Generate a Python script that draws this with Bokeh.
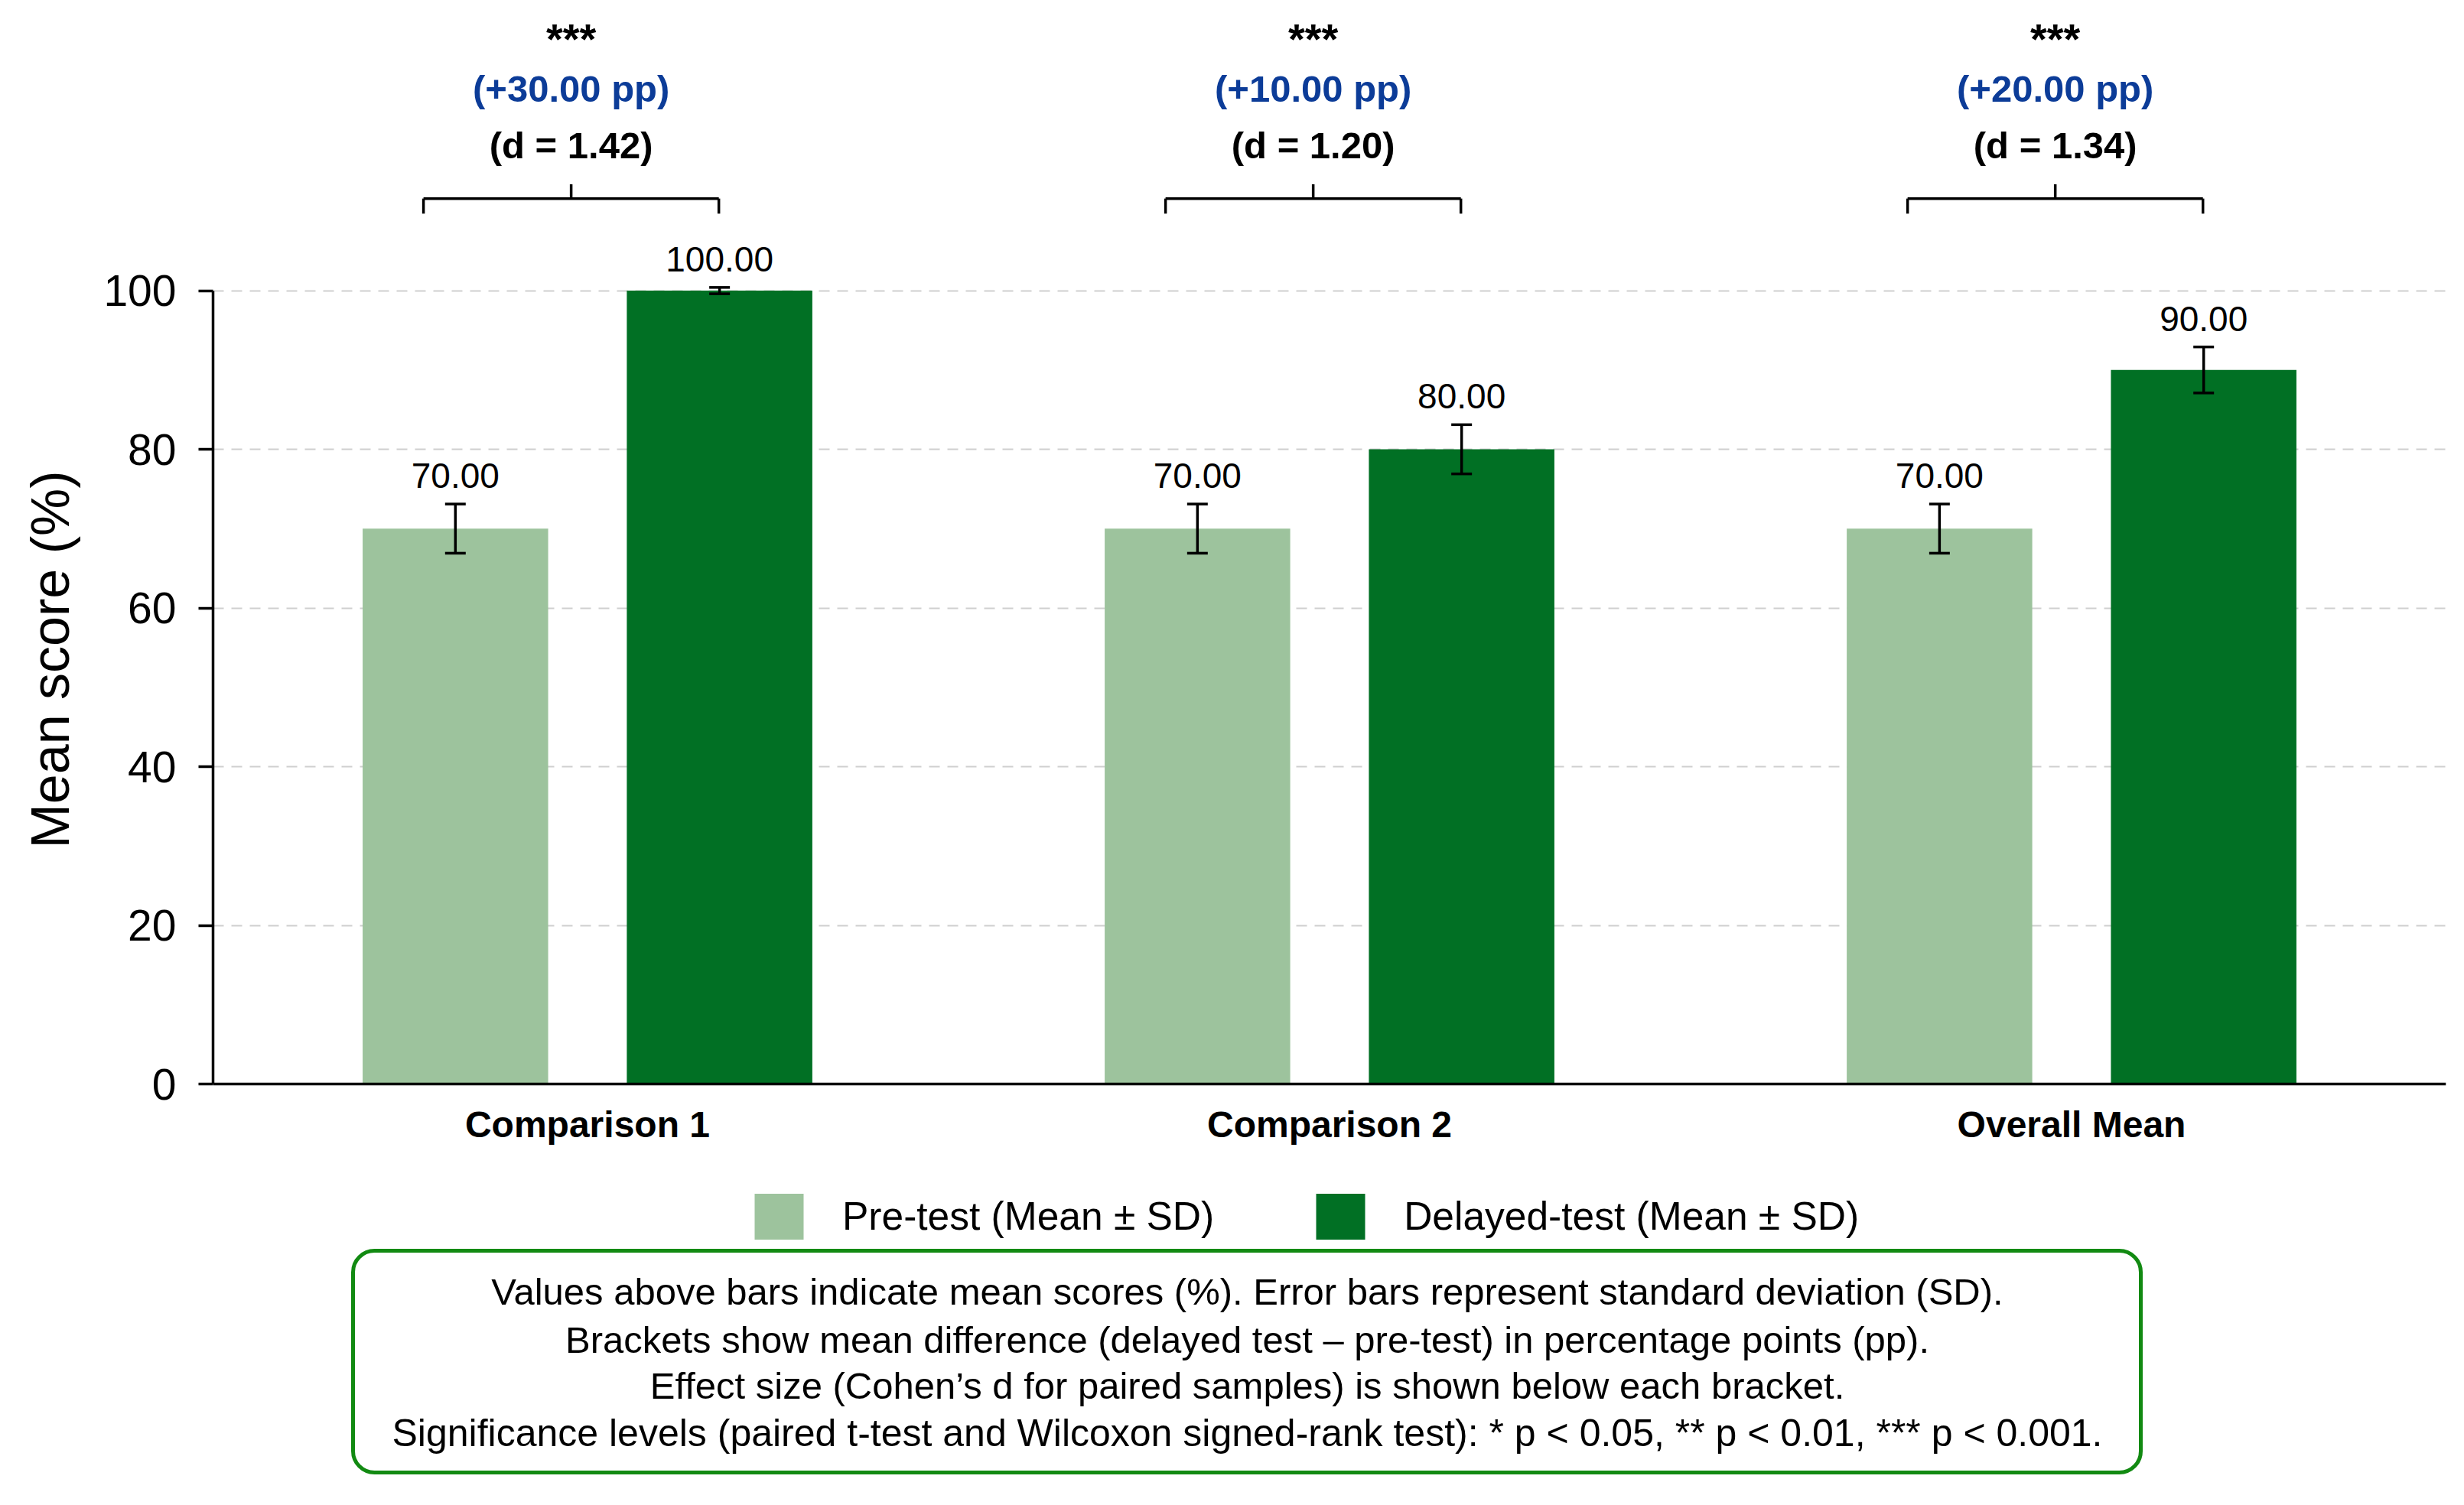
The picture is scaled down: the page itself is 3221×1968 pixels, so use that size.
from bokeh.plotting import figure
from bokeh.models import (FactorRange, Range1d, ColumnDataSource, Whisker, TeeHead, Title, Label,
                          Legend, LegendItem, BoxAnnotation, FixedTicker)
from bokeh.transform import dodge
from bokeh.core.properties import value
from bokeh.embed import file_html
from bokeh.resources import INLINE

# ---------------- data ----------------
categories = ["Comparison 1", "Comparison 2", "Overall Mean"]
pre_mean = [70.0, 70.0, 70.0]
pre_sd = [3.1, 3.1, 3.1]
delayed_mean = [100.0, 80.0, 90.0]
delayed_sd = [0.4, 3.1, 2.9]
pre_labels = ["70.00", "70.00", "70.00"]
delayed_labels = ["100.00", "80.00", "90.00"]
significance = ["***", "***", "***"]
diff_labels = ["(+30.00 pp)", "(+10.00 pp)", "(+20.00 pp)"]
effect_labels = ["(d = 1.42)", "(d = 1.20)", "(d = 1.34)"]
y_ticks = [0, 20, 40, 60, 80, 100]
legend_labels = ["Pre-test (Mean \u00b1 SD)", "Delayed-test (Mean \u00b1 SD)"]
note_lines = [
    "Values above bars indicate mean scores (%). Error bars represent standard deviation (SD).",
    "Brackets show mean difference (delayed test \u2013 pre-test) in percentage points (pp).",
    "Effect size (Cohen\u2019s d for paired samples) is shown below each bracket.",
    "Significance levels (paired t-test and Wilcoxon signed-rank test): * p < 0.05, ** p < 0.01, *** p < 0.001.",
]

# ---------------- styles / layout ----------------
FONT = "Liberation Sans"
PRE_COLOR = "#9DC39D"
DEL_COLOR = "#017024"
BLUE = "#0C3C98"
BOX_GREEN = "#128A12"
OFF = 0.178
BAR_W = 0.25
FRAME_W, FRAME_H = 2919, 1960
PX_PER_UNIT = 10.375
Y_TOP = 1417 / PX_PER_UNIT
Y_BOTTOM = -(FRAME_H - 1417) / PX_PER_UNIT
X_PAD = 0.0046
FRAME_LEFT = 278  # frame left edge in the reference picture

def sx(px):  # picture x -> synthetic x of the categorical range
    return -X_PAD + (px - FRAME_LEFT) / (FRAME_W / (3 + 2 * X_PAD))

def sy(py):  # picture y -> data y
    return (1417 - py) / PX_PER_UNIT

src = ColumnDataSource(dict(
    cat=categories,
    pre=pre_mean, pre_lo=[m - s for m, s in zip(pre_mean, pre_sd)], pre_hi=[m + s for m, s in zip(pre_mean, pre_sd)],
    dl=delayed_mean, dl_lo=[m - s for m, s in zip(delayed_mean, delayed_sd)], dl_hi=[m + s for m, s in zip(delayed_mean, delayed_sd)],
    pre_lab=pre_labels, dl_lab=delayed_labels,
    sig=significance, diff=diff_labels, eff=effect_labels,
))

p = figure(frame_width=FRAME_W, frame_height=FRAME_H,
           x_range=FactorRange(factors=categories, range_padding=X_PAD, range_padding_units="absolute"),
           y_range=Range1d(Y_BOTTOM, Y_TOP),
           output_backend="svg", toolbar_location=None,
           min_border_left=FRAME_LEFT - 8, min_border_right=16, min_border_top=0, min_border_bottom=0)
p.outline_line_color = None
p.background_fill_color = "white"
p.border_fill_color = "white"

xr = p.x_range
r_pre = p.vbar(x=dodge("cat", -OFF, range=xr), top="pre", bottom=0, width=BAR_W, source=src,
               fill_color=PRE_COLOR, line_color=None)
r_del = p.vbar(x=dodge("cat", OFF, range=xr), top="dl", bottom=0, width=BAR_W, source=src,
               fill_color=DEL_COLOR, line_color=None)

for off, lo, hi in [(-OFF, "pre_lo", "pre_hi"), (OFF, "dl_lo", "dl_hi")]:
    w = Whisker(base=dodge("cat", off, range=xr), lower=lo, upper=hi, source=src,
                line_color="black", line_width=3.5, level="annotation",
                upper_head=TeeHead(size=27, line_width=3.5, line_color="black"),
                lower_head=TeeHead(size=27, line_width=3.5, line_color="black"))
    p.add_layout(w)

# value labels
for off, ycol, tcol in [(-OFF, "pre_hi", "pre_lab"), (OFF, "dl_hi", "dl_lab")]:
    p.text(x=dodge("cat", off, range=xr), y=ycol, text=tcol, source=src, y_offset=-37,
           text_align="center", text_baseline="middle", text_font=value(FONT), text_font_size="46px",
           text_color="black")

# brackets (positions in data units of the y axis)
BY, BLO, BHI = 111.6, 109.7, 113.4
BL, BR, BC = -0.221, 0.177, -0.022
p.segment(x0=dodge("cat", BL, range=xr), y0=BY, x1=dodge("cat", BR, range=xr), y1=BY,
          source=src, line_color="black", line_width=3.5)
p.segment(x0=dodge("cat", BL, range=xr), y0=BY, x1=dodge("cat", BL, range=xr), y1=BLO,
          source=src, line_color="black", line_width=3.5)
p.segment(x0=dodge("cat", BR, range=xr), y0=BY, x1=dodge("cat", BR, range=xr), y1=BLO,
          source=src, line_color="black", line_width=3.5)
p.segment(x0=dodge("cat", BC, range=xr), y0=BY, x1=dodge("cat", BC, range=xr), y1=BHI,
          source=src, line_color="black", line_width=3.5)

for col, yy, size, color in [("sig", 131.8, "56px", "black"), ("diff", 125.4, "49px", BLUE),
                             ("eff", 118.3, "49px", "black")]:
    p.text(x=dodge("cat", BC, range=xr), y=yy, text=col, source=src, text_align="center",
           text_baseline="middle", text_font=value(FONT), text_font_size=size, text_font_style="bold",
           text_color=color)

# axes
p.yaxis.ticker = FixedTicker(ticks=y_ticks)
p.yaxis.bounds = (0, 100)
p.yaxis.axis_line_color = "black"
p.yaxis.axis_line_width = 3.5
p.yaxis.major_tick_line_width = 3.5
p.yaxis.major_tick_out = 19
p.yaxis.major_tick_in = 0
p.yaxis.minor_tick_line_color = None
p.yaxis.major_label_standoff = 29
p.yaxis.major_label_text_font = FONT
p.yaxis.major_label_text_font_size = "57px"
p.yaxis.major_label_text_color = "black"

p.xaxis.fixed_location = 0
p.xaxis.axis_line_color = "black"
p.xaxis.axis_line_width = 3.5
p.xaxis.major_tick_line_color = None
p.xaxis.major_tick_out = 0
p.xaxis.major_tick_in = 0
p.xaxis.minor_tick_line_color = None
p.xaxis.major_label_standoff = 26
p.xaxis.major_label_text_font = FONT
p.xaxis.major_label_text_font_size = "48px"
p.xaxis.major_label_text_font_style = "bold"
p.xaxis.major_label_text_color = "black"

p.xgrid.grid_line_color = None
p.ygrid.grid_line_color = "#cfcfcf"
p.ygrid.grid_line_width = 2
p.ygrid.grid_line_dash = "14 10"

# y axis title
p.add_layout(Title(text="Mean score (%)", align="left", offset=851, standoff=52,
                   vertical_align="top",
                   text_font=FONT, text_font_size="70px", text_font_style="normal",
                   text_color="black"), "left")

# legend (inside the lower part of the frame)
legend = Legend(items=[LegendItem(label=legend_labels[0], renderers=[r_pre]),
                       LegendItem(label=legend_labels[1], renderers=[r_del])],
                location=(700, FRAME_H - 1627.5), orientation="horizontal",
                glyph_width=80, glyph_height=75, label_height=75, label_standoff=43, spacing=125,
                padding=0, margin=0, border_line_color=None, background_fill_alpha=0,
                label_text_font=FONT, label_text_font_size="51.5px", label_text_color="black")
p.add_layout(legend)

# note box
p.add_layout(BoxAnnotation(left=sx(461), right=sx(2798), top=sy(1635), bottom=sy(1925),
                           fill_alpha=0, line_color=BOX_GREEN, line_alpha=1.0, line_width=5,
                           border_radius=28))
for txt, yy, fs in zip(note_lines, [1688, 1751, 1811, 1873], ["49px", "49px", "49px", "50px"]):
    p.add_layout(Label(x=sx(1630), y=sy(yy), text=txt, text_align="center", text_baseline="middle",
                       text_font=FONT, text_font_size=fs, text_color="black"))

open("out.html", "w").write(file_html(p, INLINE))
